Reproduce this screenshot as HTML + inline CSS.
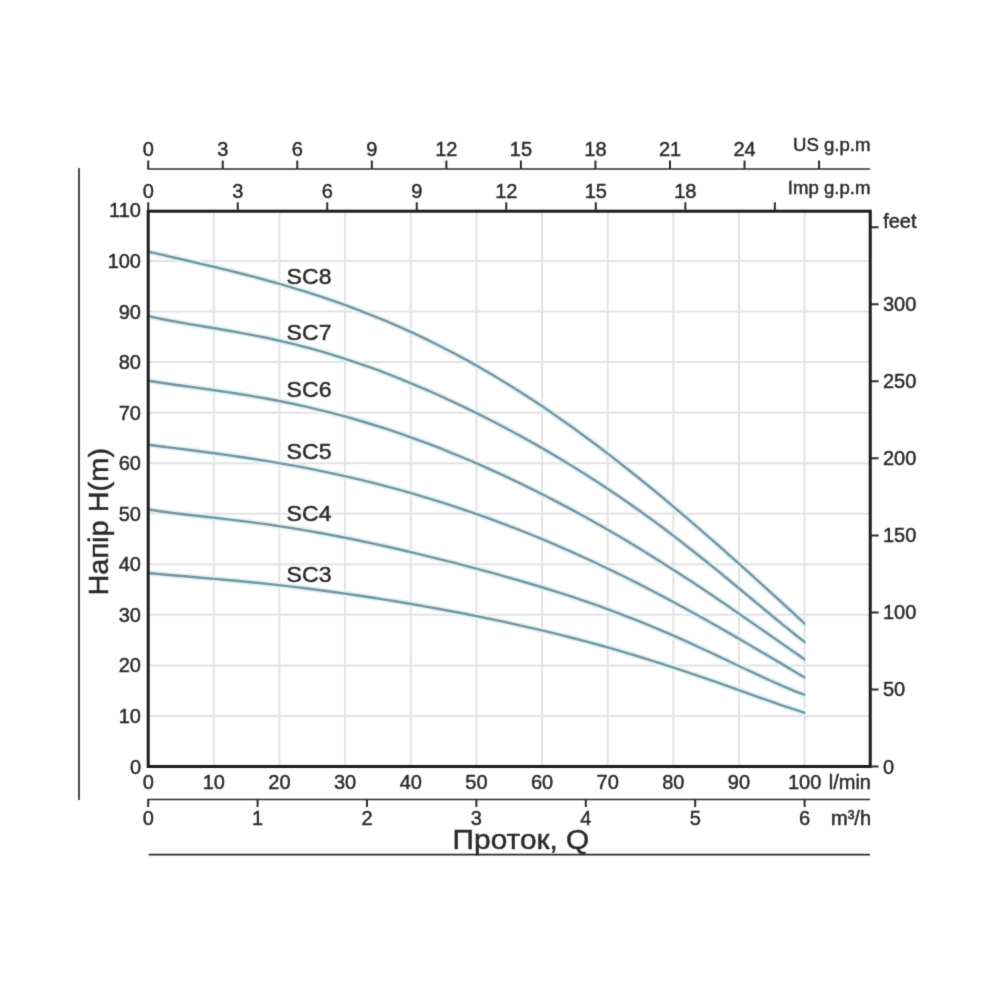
<!DOCTYPE html>
<html><head><meta charset="utf-8"><title>Pump curves</title>
<style>html,body{margin:0;padding:0;background:#fff;}svg{display:block;will-change:transform;}text{font-family:"Liberation Sans", sans-serif;fill:#2a2a2a;stroke:#2a2a2a;stroke-width:0.45px;}</style></head><body>
<svg width="1000" height="1000" viewBox="0 0 1000 1000">
<defs><filter id="soft" color-interpolation-filters="sRGB" filterUnits="userSpaceOnUse" x="0" y="0" width="1000" height="1000"><feConvolveMatrix order="3" kernelMatrix="0.0144 0.0912 0.0144 0.0912 0.5776 0.0912 0.0144 0.0912 0.0144" divisor="1" edgeMode="duplicate" preserveAlpha="false"/></filter></defs>
<g filter="url(#soft)">
<rect width="1000" height="1000" fill="#ffffff"/>
<path d="M213.84,211.20V766.50M279.48,211.20V766.50M345.12,211.20V766.50M410.76,211.20V766.50M476.40,211.20V766.50M542.04,211.20V766.50M607.68,211.20V766.50M673.32,211.20V766.50M738.96,211.20V766.50M804.60,211.20V766.50M148.20,715.95H870.24M148.20,665.40H870.24M148.20,614.85H870.24M148.20,564.30H870.24M148.20,513.75H870.24M148.20,463.20H870.24M148.20,412.65H870.24M148.20,362.10H870.24M148.20,311.55H870.24M148.20,261.00H870.24" stroke="#e3e3e3" stroke-width="2" fill="none"/>
<clipPath id="cc"><rect x="148.20" y="200" width="657.10" height="580"/></clipPath><g clip-path="url(#cc)">
<path d="M148.20,251.67 L161.43,254.70 L174.67,257.73 L187.90,260.77 L201.13,263.84 L214.37,266.97 L227.60,270.19 L240.83,273.50 L254.06,276.92 L267.30,280.49 L280.53,284.20 L293.76,288.09 L307.00,292.16 L320.23,296.43 L333.46,300.92 L346.70,305.63 L359.93,310.57 L373.16,315.77 L386.39,321.22 L399.63,326.93 L412.86,332.92 L426.09,339.18 L439.33,345.72 L452.56,352.55 L465.79,359.67 L479.03,367.07 L492.26,374.76 L505.49,382.74 L518.72,391.00 L531.96,399.54 L545.19,408.36 L558.42,417.44 L571.66,426.80 L584.89,436.41 L598.12,446.27 L611.36,456.36 L624.59,466.69 L637.82,477.24 L651.05,487.99 L664.29,498.94 L677.52,510.07 L690.75,521.37 L703.99,532.83 L717.22,544.42 L730.45,556.15 L743.69,567.98 L756.92,579.91 L770.15,591.93 L783.39,604.01 L796.62,616.14 L809.85,628.31" stroke="#e1f4f8" stroke-width="6" fill="none" stroke-linecap="butt"/>
<path d="M148.20,316.17 L161.43,319.02 L174.67,321.54 L187.90,323.85 L201.13,326.05 L214.37,328.24 L227.60,330.48 L240.83,332.83 L254.06,335.34 L267.30,338.04 L280.53,340.96 L293.76,344.12 L307.00,347.53 L320.23,351.20 L333.46,355.13 L346.70,359.32 L359.93,363.77 L373.16,368.47 L386.39,373.42 L399.63,378.61 L412.86,384.02 L426.09,389.66 L439.33,395.52 L452.56,401.59 L465.79,407.87 L479.03,414.35 L492.26,421.04 L505.49,427.94 L518.72,435.04 L531.96,442.36 L545.19,449.91 L558.42,457.67 L571.66,465.68 L584.89,473.92 L598.12,482.42 L611.36,491.17 L624.59,500.19 L637.82,509.47 L651.05,519.02 L664.29,528.83 L677.52,538.89 L690.75,549.19 L703.99,559.72 L717.22,570.43 L730.45,581.29 L743.69,592.26 L756.92,603.26 L770.15,614.24 L783.39,625.09 L796.62,635.71 L809.85,645.97" stroke="#e1f4f8" stroke-width="6" fill="none" stroke-linecap="butt"/>
<path d="M148.20,380.78 L161.43,382.80 L174.67,384.69 L187.90,386.53 L201.13,388.36 L214.37,390.23 L227.60,392.17 L240.83,394.23 L254.06,396.42 L267.30,398.77 L280.53,401.29 L293.76,404.01 L307.00,406.93 L320.23,410.06 L333.46,413.40 L346.70,416.96 L359.93,420.74 L373.16,424.74 L386.39,428.97 L399.63,433.40 L412.86,438.06 L426.09,442.92 L439.33,447.99 L452.56,453.27 L465.79,458.75 L479.03,464.43 L492.26,470.31 L505.49,476.38 L518.72,482.65 L531.96,489.10 L545.19,495.75 L558.42,502.59 L571.66,509.61 L584.89,516.82 L598.12,524.22 L611.36,531.81 L624.59,539.58 L637.82,547.53 L651.05,555.66 L664.29,563.96 L677.52,572.43 L690.75,581.06 L703.99,589.83 L717.22,598.75 L730.45,607.78 L743.69,616.90 L756.92,626.11 L770.15,635.35 L783.39,644.61 L796.62,653.84 L809.85,663.00" stroke="#e1f4f8" stroke-width="6" fill="none" stroke-linecap="butt"/>
<path d="M148.20,444.80 L161.43,446.47 L174.67,448.13 L187.90,449.79 L201.13,451.49 L214.37,453.25 L227.60,455.07 L240.83,456.98 L254.06,458.98 L267.30,461.10 L280.53,463.33 L293.76,465.69 L307.00,468.19 L320.23,470.83 L333.46,473.62 L346.70,476.55 L359.93,479.65 L373.16,482.90 L386.39,486.31 L399.63,489.89 L412.86,493.64 L426.09,497.55 L439.33,501.63 L452.56,505.88 L465.79,510.30 L479.03,514.89 L492.26,519.66 L505.49,524.60 L518.72,529.71 L531.96,535.00 L545.19,540.45 L558.42,546.08 L571.66,551.89 L584.89,557.86 L598.12,564.00 L611.36,570.31 L624.59,576.79 L637.82,583.42 L651.05,590.21 L664.29,597.16 L677.52,604.24 L690.75,611.47 L703.99,618.82 L717.22,626.29 L730.45,633.86 L743.69,641.52 L756.92,649.26 L770.15,657.06 L783.39,664.88 L796.62,672.72 L809.85,680.54" stroke="#e1f4f8" stroke-width="6" fill="none" stroke-linecap="butt"/>
<path d="M148.20,509.51 L161.43,511.48 L174.67,513.22 L187.90,514.80 L201.13,516.31 L214.37,517.81 L227.60,519.34 L240.83,520.93 L254.06,522.62 L267.30,524.43 L280.53,526.36 L293.76,528.43 L307.00,530.64 L320.23,532.98 L333.46,535.45 L346.70,538.04 L359.93,540.76 L373.16,543.58 L386.39,546.50 L399.63,549.51 L412.86,552.62 L426.09,555.80 L439.33,559.06 L452.56,562.40 L465.79,565.82 L479.03,569.32 L492.26,572.90 L505.49,576.57 L518.72,580.35 L531.96,584.23 L545.19,588.24 L558.42,592.38 L571.66,596.67 L584.89,601.12 L598.12,605.74 L611.36,610.54 L624.59,615.53 L637.82,620.72 L651.05,626.11 L664.29,631.70 L677.52,637.47 L690.75,643.41 L703.99,649.50 L717.22,655.69 L730.45,661.96 L743.69,668.23 L756.92,674.45 L770.15,680.51 L783.39,686.32 L796.62,691.76 L809.85,696.67" stroke="#e1f4f8" stroke-width="6" fill="none" stroke-linecap="butt"/>
<path d="M148.20,573.05 L161.43,574.27 L174.67,575.43 L187.90,576.55 L201.13,577.68 L214.37,578.83 L227.60,580.02 L240.83,581.26 L254.06,582.56 L267.30,583.93 L280.53,585.38 L293.76,586.90 L307.00,588.51 L320.23,590.20 L333.46,591.98 L346.70,593.83 L359.93,595.77 L373.16,597.78 L386.39,599.87 L399.63,602.04 L412.86,604.28 L426.09,606.60 L439.33,609.00 L452.56,611.47 L465.79,614.02 L479.03,616.66 L492.26,619.38 L505.49,622.19 L518.72,625.09 L531.96,628.09 L545.19,631.20 L558.42,634.41 L571.66,637.74 L584.89,641.19 L598.12,644.76 L611.36,648.46 L624.59,652.28 L637.82,656.24 L651.05,660.32 L664.29,664.53 L677.52,668.86 L690.75,673.30 L703.99,677.84 L717.22,682.45 L730.45,687.12 L743.69,691.83 L756.92,696.53 L770.15,701.19 L783.39,705.76 L796.62,710.18 L809.85,714.41" stroke="#e1f4f8" stroke-width="6" fill="none" stroke-linecap="butt"/>
<path d="M148.20,251.67 L161.43,254.70 L174.67,257.73 L187.90,260.77 L201.13,263.84 L214.37,266.97 L227.60,270.19 L240.83,273.50 L254.06,276.92 L267.30,280.49 L280.53,284.20 L293.76,288.09 L307.00,292.16 L320.23,296.43 L333.46,300.92 L346.70,305.63 L359.93,310.57 L373.16,315.77 L386.39,321.22 L399.63,326.93 L412.86,332.92 L426.09,339.18 L439.33,345.72 L452.56,352.55 L465.79,359.67 L479.03,367.07 L492.26,374.76 L505.49,382.74 L518.72,391.00 L531.96,399.54 L545.19,408.36 L558.42,417.44 L571.66,426.80 L584.89,436.41 L598.12,446.27 L611.36,456.36 L624.59,466.69 L637.82,477.24 L651.05,487.99 L664.29,498.94 L677.52,510.07 L690.75,521.37 L703.99,532.83 L717.22,544.42 L730.45,556.15 L743.69,567.98 L756.92,579.91 L770.15,591.93 L783.39,604.01 L796.62,616.14 L809.85,628.31" stroke="#76949f" stroke-width="2.4" fill="none" stroke-linecap="butt"/>
<path d="M148.20,316.17 L161.43,319.02 L174.67,321.54 L187.90,323.85 L201.13,326.05 L214.37,328.24 L227.60,330.48 L240.83,332.83 L254.06,335.34 L267.30,338.04 L280.53,340.96 L293.76,344.12 L307.00,347.53 L320.23,351.20 L333.46,355.13 L346.70,359.32 L359.93,363.77 L373.16,368.47 L386.39,373.42 L399.63,378.61 L412.86,384.02 L426.09,389.66 L439.33,395.52 L452.56,401.59 L465.79,407.87 L479.03,414.35 L492.26,421.04 L505.49,427.94 L518.72,435.04 L531.96,442.36 L545.19,449.91 L558.42,457.67 L571.66,465.68 L584.89,473.92 L598.12,482.42 L611.36,491.17 L624.59,500.19 L637.82,509.47 L651.05,519.02 L664.29,528.83 L677.52,538.89 L690.75,549.19 L703.99,559.72 L717.22,570.43 L730.45,581.29 L743.69,592.26 L756.92,603.26 L770.15,614.24 L783.39,625.09 L796.62,635.71 L809.85,645.97" stroke="#76949f" stroke-width="2.4" fill="none" stroke-linecap="butt"/>
<path d="M148.20,380.78 L161.43,382.80 L174.67,384.69 L187.90,386.53 L201.13,388.36 L214.37,390.23 L227.60,392.17 L240.83,394.23 L254.06,396.42 L267.30,398.77 L280.53,401.29 L293.76,404.01 L307.00,406.93 L320.23,410.06 L333.46,413.40 L346.70,416.96 L359.93,420.74 L373.16,424.74 L386.39,428.97 L399.63,433.40 L412.86,438.06 L426.09,442.92 L439.33,447.99 L452.56,453.27 L465.79,458.75 L479.03,464.43 L492.26,470.31 L505.49,476.38 L518.72,482.65 L531.96,489.10 L545.19,495.75 L558.42,502.59 L571.66,509.61 L584.89,516.82 L598.12,524.22 L611.36,531.81 L624.59,539.58 L637.82,547.53 L651.05,555.66 L664.29,563.96 L677.52,572.43 L690.75,581.06 L703.99,589.83 L717.22,598.75 L730.45,607.78 L743.69,616.90 L756.92,626.11 L770.15,635.35 L783.39,644.61 L796.62,653.84 L809.85,663.00" stroke="#76949f" stroke-width="2.4" fill="none" stroke-linecap="butt"/>
<path d="M148.20,444.80 L161.43,446.47 L174.67,448.13 L187.90,449.79 L201.13,451.49 L214.37,453.25 L227.60,455.07 L240.83,456.98 L254.06,458.98 L267.30,461.10 L280.53,463.33 L293.76,465.69 L307.00,468.19 L320.23,470.83 L333.46,473.62 L346.70,476.55 L359.93,479.65 L373.16,482.90 L386.39,486.31 L399.63,489.89 L412.86,493.64 L426.09,497.55 L439.33,501.63 L452.56,505.88 L465.79,510.30 L479.03,514.89 L492.26,519.66 L505.49,524.60 L518.72,529.71 L531.96,535.00 L545.19,540.45 L558.42,546.08 L571.66,551.89 L584.89,557.86 L598.12,564.00 L611.36,570.31 L624.59,576.79 L637.82,583.42 L651.05,590.21 L664.29,597.16 L677.52,604.24 L690.75,611.47 L703.99,618.82 L717.22,626.29 L730.45,633.86 L743.69,641.52 L756.92,649.26 L770.15,657.06 L783.39,664.88 L796.62,672.72 L809.85,680.54" stroke="#76949f" stroke-width="2.4" fill="none" stroke-linecap="butt"/>
<path d="M148.20,509.51 L161.43,511.48 L174.67,513.22 L187.90,514.80 L201.13,516.31 L214.37,517.81 L227.60,519.34 L240.83,520.93 L254.06,522.62 L267.30,524.43 L280.53,526.36 L293.76,528.43 L307.00,530.64 L320.23,532.98 L333.46,535.45 L346.70,538.04 L359.93,540.76 L373.16,543.58 L386.39,546.50 L399.63,549.51 L412.86,552.62 L426.09,555.80 L439.33,559.06 L452.56,562.40 L465.79,565.82 L479.03,569.32 L492.26,572.90 L505.49,576.57 L518.72,580.35 L531.96,584.23 L545.19,588.24 L558.42,592.38 L571.66,596.67 L584.89,601.12 L598.12,605.74 L611.36,610.54 L624.59,615.53 L637.82,620.72 L651.05,626.11 L664.29,631.70 L677.52,637.47 L690.75,643.41 L703.99,649.50 L717.22,655.69 L730.45,661.96 L743.69,668.23 L756.92,674.45 L770.15,680.51 L783.39,686.32 L796.62,691.76 L809.85,696.67" stroke="#76949f" stroke-width="2.4" fill="none" stroke-linecap="butt"/>
<path d="M148.20,573.05 L161.43,574.27 L174.67,575.43 L187.90,576.55 L201.13,577.68 L214.37,578.83 L227.60,580.02 L240.83,581.26 L254.06,582.56 L267.30,583.93 L280.53,585.38 L293.76,586.90 L307.00,588.51 L320.23,590.20 L333.46,591.98 L346.70,593.83 L359.93,595.77 L373.16,597.78 L386.39,599.87 L399.63,602.04 L412.86,604.28 L426.09,606.60 L439.33,609.00 L452.56,611.47 L465.79,614.02 L479.03,616.66 L492.26,619.38 L505.49,622.19 L518.72,625.09 L531.96,628.09 L545.19,631.20 L558.42,634.41 L571.66,637.74 L584.89,641.19 L598.12,644.76 L611.36,648.46 L624.59,652.28 L637.82,656.24 L651.05,660.32 L664.29,664.53 L677.52,668.86 L690.75,673.30 L703.99,677.84 L717.22,682.45 L730.45,687.12 L743.69,691.83 L756.92,696.53 L770.15,701.19 L783.39,705.76 L796.62,710.18 L809.85,714.41" stroke="#76949f" stroke-width="2.4" fill="none" stroke-linecap="butt"/>
</g>
<rect x="148.20" y="211.20" width="722.04" height="555.30" fill="none" stroke="#1c1c1c" stroke-width="3"/>
<text transform="translate(286.6,283.5) scale(1.045,1)" font-size="22.1">SC8</text>
<text transform="translate(286.6,339.5) scale(1.045,1)" font-size="22.1">SC7</text>
<text transform="translate(286.6,396.5) scale(1.045,1)" font-size="22.1">SC6</text>
<text transform="translate(286.6,458.5) scale(1.045,1)" font-size="22.1">SC5</text>
<text transform="translate(286.6,521.0) scale(1.045,1)" font-size="22.1">SC4</text>
<text transform="translate(286.6,582.0) scale(1.045,1)" font-size="22.1">SC3</text>
<text x="141" y="773.50" font-size="20" text-anchor="end">0</text>
<text x="141" y="722.95" font-size="20" text-anchor="end">10</text>
<text x="141" y="672.40" font-size="20" text-anchor="end">20</text>
<text x="141" y="621.85" font-size="20" text-anchor="end">30</text>
<text x="141" y="571.30" font-size="20" text-anchor="end">40</text>
<text x="141" y="520.75" font-size="20" text-anchor="end">50</text>
<text x="141" y="470.20" font-size="20" text-anchor="end">60</text>
<text x="141" y="419.65" font-size="20" text-anchor="end">70</text>
<text x="141" y="369.10" font-size="20" text-anchor="end">80</text>
<text x="141" y="318.55" font-size="20" text-anchor="end">90</text>
<text x="141" y="268.00" font-size="20" text-anchor="end">100</text>
<text x="141" y="217.45" font-size="20" text-anchor="end">110</text>
<text x="148.20" y="789" font-size="20" text-anchor="middle">0</text>
<text x="213.84" y="789" font-size="20" text-anchor="middle">10</text>
<text x="279.48" y="789" font-size="20" text-anchor="middle">20</text>
<text x="345.12" y="789" font-size="20" text-anchor="middle">30</text>
<text x="410.76" y="789" font-size="20" text-anchor="middle">40</text>
<text x="476.40" y="789" font-size="20" text-anchor="middle">50</text>
<text x="542.04" y="789" font-size="20" text-anchor="middle">60</text>
<text x="607.68" y="789" font-size="20" text-anchor="middle">70</text>
<text x="673.32" y="789" font-size="20" text-anchor="middle">80</text>
<text x="738.96" y="789" font-size="20" text-anchor="middle">90</text>
<text x="804.60" y="789" font-size="20" text-anchor="middle">100</text>
<text x="871" y="789" font-size="20" text-anchor="end">l/min</text>
<text x="148.20" y="825" font-size="20" text-anchor="middle">0</text>
<text x="257.60" y="825" font-size="20" text-anchor="middle">1</text>
<text x="367.00" y="825" font-size="20" text-anchor="middle">2</text>
<text x="476.40" y="825" font-size="20" text-anchor="middle">3</text>
<text x="585.80" y="825" font-size="20" text-anchor="middle">4</text>
<text x="695.20" y="825" font-size="20" text-anchor="middle">5</text>
<text x="804.60" y="825" font-size="20" text-anchor="middle">6</text>
<text x="871" y="825" font-size="20" text-anchor="end">m³/h</text>
<text x="148.20" y="156.4" font-size="20" text-anchor="middle">0</text>
<text x="222.74" y="156.4" font-size="20" text-anchor="middle">3</text>
<text x="297.28" y="156.4" font-size="20" text-anchor="middle">6</text>
<text x="371.83" y="156.4" font-size="20" text-anchor="middle">9</text>
<text x="446.37" y="156.4" font-size="20" text-anchor="middle">12</text>
<text x="520.91" y="156.4" font-size="20" text-anchor="middle">15</text>
<text x="595.45" y="156.4" font-size="20" text-anchor="middle">18</text>
<text x="670.00" y="156.4" font-size="20" text-anchor="middle">21</text>
<text x="744.54" y="156.4" font-size="20" text-anchor="middle">24</text>
<text x="870.5" y="151" font-size="18.6" text-anchor="end">US g.p.m</text>
<text x="148.20" y="198" font-size="20" text-anchor="middle">0</text>
<text x="237.72" y="198" font-size="20" text-anchor="middle">3</text>
<text x="327.24" y="198" font-size="20" text-anchor="middle">6</text>
<text x="416.76" y="198" font-size="20" text-anchor="middle">9</text>
<text x="506.29" y="198" font-size="20" text-anchor="middle">12</text>
<text x="595.81" y="198" font-size="20" text-anchor="middle">15</text>
<text x="685.33" y="198" font-size="20" text-anchor="middle">18</text>
<text x="870.5" y="193.6" font-size="18.6" text-anchor="end">Imp g.p.m</text>
<text x="883" y="773.50" font-size="20">0</text>
<text x="883" y="696.46" font-size="20">50</text>
<text x="883" y="619.42" font-size="20">100</text>
<text x="883" y="542.39" font-size="20">150</text>
<text x="883" y="465.35" font-size="20">200</text>
<text x="883" y="388.31" font-size="20">250</text>
<text x="883" y="311.27" font-size="20">300</text>
<text x="883.2" y="227.73" font-size="20">feet</text>
<path d="M147.40,799.5H870M147.40,169H870M79,168V800M148.70,854.7H870" stroke="#2c2c2c" stroke-width="1.7" fill="none"/>
<path d="M148.20,799.5V807M257.60,799.5V807M367.00,799.5V807M476.40,799.5V807M585.80,799.5V807M695.20,799.5V807M804.60,799.5V807M148.20,169V160.5M222.74,169V160.5M297.28,169V160.5M371.83,169V160.5M446.37,169V160.5M520.91,169V160.5M595.45,169V160.5M670.00,169V160.5M744.54,169V160.5M819.08,169V160.5M148.20,211.20V202.3M237.72,211.20V202.3M327.24,211.20V202.3M416.76,211.20V202.3M506.29,211.20V202.3M595.81,211.20V202.3M685.33,211.20V202.3M774.85,211.20V202.3M870.24,766.50H878.6M870.24,689.46H878.6M870.24,612.42H878.6M870.24,535.39H878.6M870.24,458.35H878.6M870.24,381.31H878.6M870.24,304.27H878.6M870.24,227.23H878.6" stroke="#2c2c2c" stroke-width="2" fill="none"/>
<text transform="translate(452.6,848.7) scale(1.095,1)" font-size="27.25">Проток, Q</text>
<text transform="translate(108.2,595.6) rotate(-90) scale(1.024,1)" font-size="28.3">Напір H(m)</text>
</g></svg></body></html>
